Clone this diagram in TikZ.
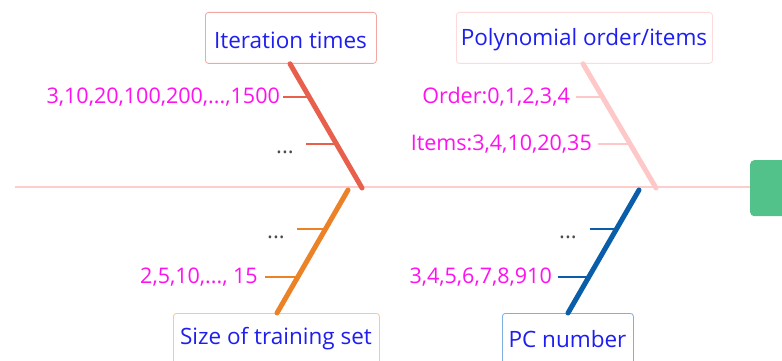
\documentclass[tikz,border=0pt]{standalone}
\usepackage{fontspec}
\setmainfont{Open Sans}
\usetikzlibrary{calc}
\definecolor{spinec}{HTML}{FFCCCC}
\definecolor{labelblue}{HTML}{1E1EF0}
\definecolor{valmag}{HTML}{FF10F0}
\definecolor{iterc}{HTML}{E8604C}
\definecolor{iterbd}{HTML}{F0A8A0}
\definecolor{polyc}{HTML}{FFC8C8}
\definecolor{polybd}{HTML}{FFDADA}
\definecolor{sizec}{HTML}{EC8228}
\definecolor{sizebd}{HTML}{F8C898}
\definecolor{pcc}{HTML}{0A5DA8}
\definecolor{pcbd}{HTML}{80B0E0}
\definecolor{headc}{HTML}{52C28A}
\begin{document}
\begin{tikzpicture}[x=1pt,y=-1pt,
  box/.style={draw,rounded corners=3pt,line width=0.8pt,fill=white,inner sep=0pt,
    anchor=north west},
  cattext/.style={text=labelblue,font=\fontsize{22.5}{26}\selectfont,inner sep=0pt},
  val/.style={anchor=east,text=valmag,font=\fontsize{21.5}{25}\selectfont,inner sep=0pt},
  more/.style={anchor=base east,text=black!70,font=\fontsize{22}{25}\selectfont,inner sep=0pt},
  bone/.style={line width=5pt,line cap=round},
  twig/.style={line width=1.2pt}]
\useasboundingbox (0,0) rectangle (782,361);
\fill[white] (0,0) rectangle (782,361);

% main spine and head
\coordinate (tail) at (15,187);
\node[fill=headc,rounded corners=4pt,minimum width=50pt,minimum height=56pt,
  anchor=north west,inner sep=0pt] (head) at (750,160) {};
\draw[spinec,line width=1.2pt] (tail) -- (head.west |- tail);

% category boxes
\node[box,draw=iterbd,minimum width=171pt,minimum height=51pt] (iter) at (205,12) {};
\node[cattext] (itert) at (290.5,40) {Iteration times};
\node[box,draw=polybd,minimum width=256pt,minimum height=51pt] (poly) at (456,12) {};
\node[cattext] (polyt) at (584,40) {Polynomial order/items};
\node[box,draw=sizebd,minimum width=206pt,minimum height=52pt] (size) at (173,313) {};
\node[cattext] (sizet) at (276,339) {Size of training set};
\node[box,draw=pcbd,minimum width=131pt,minimum height=52pt] (pc) at (502,313) {};
\node[cattext] (pct) at (567.5,339) {PC number};

% bone end points on the spine
\coordinate (iterEnd) at (362,188);
\coordinate (polyEnd) at (656,188);
\coordinate (sizeEnd) at (348,190);
\coordinate (pcEnd) at (639,190);

% bones
\draw[bone,iterc] (iter.south -| 290,0) -- (iterEnd);
\draw[bone,polyc] (poly.south -| 583,0) -- (polyEnd);
\draw[bone,sizec] (size.north -| 277,0) -- (sizeEnd);
\draw[bone,pcc] (pc.north -| 568,0) -- (pcEnd);

% Iteration times values
\node[val] (i1) at (280,97) {3,10,20,100,200,...,1500};
\coordinate (i1b) at (309,97);
\draw[twig,iterc] ([xshift=3pt]i1.east) -- (i1b);
\node[more] (i2) at (294,153) {...};
\coordinate (i2b) at (336,144);
\draw[twig,iterc] (306,144) coordinate (i2s) -- (i2b);

% Polynomial order/items values
\node[val] (p1) at (570,97) {Order:0,1,2,3,4};
\coordinate (p1b) at (603,97);
\draw[twig,polyc] ([xshift=6pt]p1.east) -- (p1b);
\node[val] (p2) at (592,144) {Items:3,4,10,20,35};
\coordinate (p2b) at (630,144);
\draw[twig,polyc] ([xshift=6pt]p2.east) -- (p2b);

% Size of training set values
\node[more] (s1) at (285,238) {...};
\coordinate (s1b) at (323,229);
\draw[twig,sizec] (297,229) coordinate (s1s) -- (s1b);
\node[val] (s2) at (258,277) {2,5,10,..., 15};
\coordinate (s2b) at (297,277);
\draw[twig,sizec] ([xshift=7pt]s2.east) -- (s2b);

% PC number values
\node[more] (c1) at (577,238) {...};
\coordinate (c1b) at (614,229);
\draw[twig,pcc] (590,229) coordinate (c1s) -- (c1b);
\node[val] (c2) at (552,277) {3,4,5,6,7,8,910};
\coordinate (c2b) at (587,277);
\draw[twig,pcc] ([xshift=6pt]c2.east) -- (c2b);
\end{tikzpicture}
\end{document}
